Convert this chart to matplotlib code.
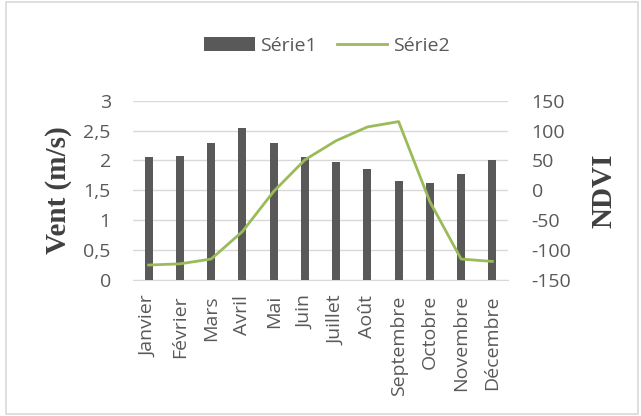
import matplotlib
matplotlib.use("Agg")
import matplotlib.pyplot as plt
from matplotlib.patches import Rectangle
import numpy as np

plt.rcParams["axes.unicode_minus"] = False

months = ["Janvier", "Février", "Mars", "Avril", "Mai", "Juin", "Juillet",
          "Août", "Septembre", "Octobre", "Novembre", "Décembre"]
serie1 = [2.05, 2.08, 2.30, 2.55, 2.30, 2.06, 1.98, 1.85, 1.66, 1.62, 1.77, 2.00]
serie2 = [-125, -123, -115, -69, -2, 51, 83, 106, 115, -19, -115, -119]
left_ticks = [0, 0.5, 1, 1.5, 2, 2.5, 3]
left_labels = ["0", "0,5", "1", "1,5", "2", "2,5", "3"]
right_ticks = [-150, -100, -50, 0, 50, 100, 150]

tick_font = "Open Sans"
tick_color = "#595959"
fs = 14

fig = plt.figure(figsize=(6.41, 4.16), dpi=100)
ax = fig.add_axes([0.2075, 0.327, 0.585, 0.431])
x = np.arange(len(months))
b = ax.bar(x, serie1, width=0.25, color="#595959", label="Série1", zorder=3)
ax.set_ylim(0, 3)
ax.set_xlim(-0.5, len(months) - 0.5)
ax.set_yticks(left_ticks)
ax.set_yticklabels(left_labels)
ax.yaxis.grid(True, color="#d9d9d9", linewidth=1, zorder=0)
ax.set_axisbelow(True)
for s in ["top", "left", "right"]:
    ax.spines[s].set_visible(False)
ax.spines["bottom"].set_color("#d9d9d9")
ax.tick_params(axis="both", length=0, colors=tick_color, labelsize=fs)
ax.tick_params(axis="x", pad=11)
ax.set_xticks(x)
ax.set_xticklabels(months, rotation=90, fontfamily=tick_font)
for lab in ax.get_yticklabels():
    lab.set_fontfamily(tick_font)
ax.tick_params(axis="y", pad=16)
ax.set_ylabel("Vent (m/s)", fontfamily="Liberation Serif", fontweight="bold",
              fontsize=21, color="#404040")
ax.yaxis.set_label_coords(-0.163, 0.5)

ax2 = ax.twinx()
l, = ax2.plot(x, serie2, color="#9BBB59", linewidth=2, label="Série2", zorder=4)
ax2.set_ylim(-150, 150)
ax2.set_yticks(right_ticks)
for s in ["top", "left", "right", "bottom"]:
    ax2.spines[s].set_visible(False)
ax2.tick_params(axis="y", length=0, colors=tick_color, labelsize=fs, pad=17)
for lab in ax2.get_yticklabels():
    lab.set_fontfamily(tick_font)
ax2.set_ylabel("NDVI", fontfamily="Liberation Serif", fontweight="bold",
               fontsize=21, color="#404040", rotation=90)
ax2.yaxis.set_label_coords(1.219, 0.5)

leg = fig.legend([b, l], ["Série1", "Série2"], loc="center", ncol=2,
                 bbox_to_anchor=(0.51, 0.89), frameon=False,
                 prop={"family": tick_font, "size": fs},
                 handlelength=2.6, handleheight=0.7, columnspacing=1.0,
                 handletextpad=0.3)
for t in leg.get_texts():
    t.set_color(tick_color)

fig.patches.append(Rectangle((0.01, 0.005), 0.985, 0.99, transform=fig.transFigure,
                             fill=False, edgecolor="#d9d9d9", linewidth=1.2))

fig.savefig("out.png", dpi=100, facecolor="white")
